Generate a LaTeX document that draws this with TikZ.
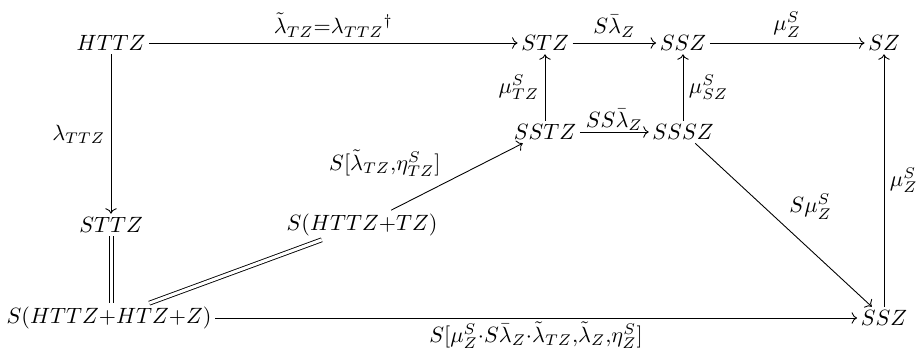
\documentclass[tikz,border=0pt]{standalone}
\usepackage{amsmath}
\usepackage{tikz}
\usetikzlibrary{arrows.meta}

\begin{document}
\begin{tikzpicture}[
    x=0.0159cm, y=-0.0159cm,
    obj/.style={inner sep=1.5pt},
    lbl/.style={inner sep=2.5pt},
    arrow/.style={-{To}},
    equal/.style={double,double distance=1.4pt}
]
\useasboundingbox (0,0) rectangle (916,350);

\node[obj] (HTTZ) at (111,43) {$HTTZ$};
\node[obj] (STZ) at (545,43) {$STZ$};
\node[obj] (SSZt) at (683,43) {$SSZ$};
\node[obj] (SZ) at (884,43) {$SZ$};
\node[obj] (SSTZ) at (545,132) {$SSTZ$};
\node[obj] (SSSZ) at (683,132) {$SSSZ$};
\node[obj] (STTZ) at (111,225) {$STTZ$};
\node[obj] (SHTZ) at (362,225) {$S(HTTZ{+}TZ)$};
\node[obj] (SHZ) at (109,318) {$S(HTTZ{+}HTZ{+}Z)$};
\node[obj] (SSZb) at (884,318) {$SSZ$};

\draw[arrow] (HTTZ) -- node[lbl,above] {$\tilde\lambda_{TZ}{=}\lambda_{TTZ}{}^{\dagger}$} (STZ);
\draw[arrow] (STZ) -- node[lbl,above] {$S\bar\lambda_Z$} (SSZt);
\draw[arrow] (SSZt) -- node[lbl,above] {$\mu^S_Z$} (SZ);
\draw[arrow] (SSTZ) -- node[lbl,left] {$\mu^S_{TZ}$} (STZ);
\draw[arrow] (SSSZ) -- node[lbl,right] {$\mu^S_{SZ}$} (SSZt);
\draw[arrow] (SSTZ) -- node[inner sep=0.5pt,above] {$SS\bar\lambda_Z$} (SSSZ);
\draw[arrow] (HTTZ) -- node[lbl,left] {$\lambda_{TTZ}$} (STTZ);
\draw[arrow] (SHTZ) -- node[lbl,pos=0.42,above left] {$S[\tilde\lambda_{TZ}{,}\eta^S_{TZ}]$} (SSTZ);
\draw[arrow] (SSSZ) -- node[lbl,above right] {$S\mu^S_Z$} (SSZb);
\draw[arrow] (SSZb) -- node[lbl,right] {$\mu^S_Z$} (SZ);
\draw[arrow] (SHZ) -- node[inner sep=1.5pt,below] {$S[\mu^S_Z{\cdot}S\bar\lambda_Z{\cdot}\tilde\lambda_{TZ}{,}\tilde\lambda_Z{,}\eta^S_Z]$} (SSZb);
\draw ([xshift=-0.9pt]STTZ.south) -- ([xshift=-0.9pt]STTZ.south |- SHZ.north);
\draw ([xshift=0.9pt]STTZ.south) -- ([xshift=0.9pt]STTZ.south |- SHZ.north);
\draw[equal] (SHZ) -- (SHTZ);
\end{tikzpicture}
\end{document}
